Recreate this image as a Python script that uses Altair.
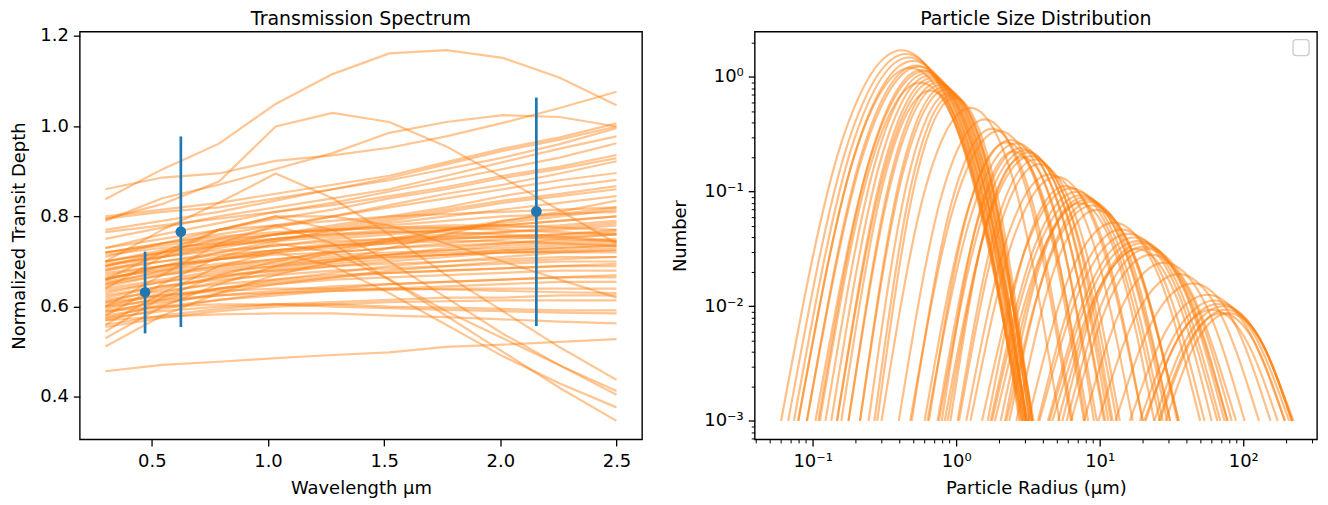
import altair as alt
import pandas as pd

ORANGE = "#ff7f0e"
BLUE = "#1f77b4"
FONT = "DejaVu Sans"

# ---------------- Transmission spectrum data ----------------
wavelengths = [0.3, 0.544, 0.789, 1.033, 1.278, 1.522, 1.767, 2.011, 2.256, 2.5]

spectra = [
    [0.838, 0.904, 0.961, 1.049, 1.115, 1.161, 1.168, 1.151, 1.107, 1.046],
    [0.794, 0.827, 0.877, 0.999, 1.029, 1.009, 0.955, 0.886, 0.813, 0.74],
    [0.860, 0.886, 0.895, 0.923, 0.935, 0.952, 0.977, 1.007, 1.04, 1.076],
    [0.79, 0.84, 0.87, 0.905, 0.94, 0.985, 1.009, 1.024, 1.02, 0.999],
    [0.457, 0.471, 0.478, 0.486, 0.493, 0.499, 0.511, 0.516, 0.522, 0.528],
    [0.70, 0.77, 0.83, 0.895, 0.84, 0.76, 0.67, 0.59, 0.51, 0.438],
    [0.58, 0.65, 0.71, 0.74, 0.72, 0.66, 0.59, 0.53, 0.47, 0.413],
    [0.64, 0.71, 0.77, 0.80, 0.77, 0.70, 0.62, 0.54, 0.47, 0.405],
    [0.56, 0.63, 0.69, 0.72, 0.69, 0.63, 0.56, 0.49, 0.43, 0.377],
    [0.60, 0.67, 0.74, 0.78, 0.74, 0.66, 0.58, 0.50, 0.42, 0.347],
    [0.66, 0.72, 0.77, 0.80, 0.80, 0.78, 0.74, 0.70, 0.66, 0.62],
    [0.80, 0.815, 0.83, 0.85, 0.87, 0.89, 0.92, 0.95, 0.975, 1.006],
    [0.795, 0.81, 0.82, 0.84, 0.86, 0.885, 0.915, 0.945, 0.97, 0.999],
    [0.77, 0.79, 0.81, 0.835, 0.86, 0.88, 0.905, 0.93, 0.96, 0.995],
    [0.75, 0.775, 0.80, 0.82, 0.84, 0.86, 0.89, 0.92, 0.95, 0.977],
    [0.73, 0.76, 0.785, 0.81, 0.83, 0.855, 0.88, 0.905, 0.93, 0.962],
    [0.765, 0.78, 0.795, 0.81, 0.825, 0.845, 0.865, 0.89, 0.91, 0.936],
    [0.71, 0.74, 0.77, 0.795, 0.815, 0.84, 0.86, 0.885, 0.905, 0.929],
    [0.69, 0.72, 0.75, 0.775, 0.80, 0.825, 0.85, 0.87, 0.895, 0.922],
    [0.72, 0.74, 0.76, 0.78, 0.80, 0.82, 0.84, 0.86, 0.88, 0.896],
    [0.68, 0.71, 0.735, 0.76, 0.78, 0.80, 0.82, 0.845, 0.865, 0.881],
    [0.70, 0.72, 0.74, 0.76, 0.775, 0.795, 0.815, 0.835, 0.85, 0.867],
    [0.66, 0.69, 0.72, 0.745, 0.77, 0.79, 0.81, 0.83, 0.845, 0.86],
    [0.69, 0.71, 0.73, 0.75, 0.765, 0.785, 0.80, 0.815, 0.83, 0.845],
    [0.512, 0.58, 0.63, 0.67, 0.70, 0.73, 0.76, 0.79, 0.81, 0.835],
    [0.53, 0.60, 0.65, 0.69, 0.72, 0.745, 0.77, 0.79, 0.805, 0.82],
    [0.545, 0.62, 0.67, 0.70, 0.725, 0.75, 0.77, 0.785, 0.80, 0.815],
    [0.73, 0.75, 0.77, 0.78, 0.79, 0.80, 0.805, 0.81, 0.815, 0.82],
    [0.72, 0.735, 0.75, 0.76, 0.77, 0.78, 0.79, 0.80, 0.805, 0.81],
    [0.715, 0.73, 0.74, 0.75, 0.76, 0.77, 0.775, 0.78, 0.79, 0.80],
    [0.70, 0.72, 0.735, 0.745, 0.755, 0.765, 0.77, 0.775, 0.78, 0.79],
    [0.695, 0.71, 0.725, 0.735, 0.745, 0.75, 0.76, 0.765, 0.77, 0.78],
    [0.685, 0.70, 0.715, 0.725, 0.735, 0.745, 0.75, 0.755, 0.76, 0.77],
    [0.68, 0.70, 0.72, 0.735, 0.75, 0.76, 0.77, 0.78, 0.79, 0.80],
    [0.675, 0.69, 0.705, 0.715, 0.72, 0.73, 0.735, 0.74, 0.745, 0.75],
    [0.67, 0.69, 0.705, 0.72, 0.73, 0.74, 0.75, 0.755, 0.76, 0.765],
    [0.665, 0.68, 0.695, 0.705, 0.715, 0.72, 0.725, 0.73, 0.735, 0.74],
    [0.66, 0.685, 0.705, 0.72, 0.735, 0.745, 0.755, 0.765, 0.775, 0.785],
    [0.655, 0.675, 0.69, 0.70, 0.71, 0.715, 0.72, 0.725, 0.73, 0.735],
    [0.65, 0.67, 0.685, 0.695, 0.705, 0.71, 0.715, 0.72, 0.722, 0.725],
    [0.645, 0.67, 0.69, 0.705, 0.72, 0.73, 0.74, 0.75, 0.755, 0.76],
    [0.64, 0.66, 0.68, 0.69, 0.70, 0.71, 0.715, 0.72, 0.72, 0.72],
    [0.635, 0.655, 0.67, 0.68, 0.69, 0.695, 0.70, 0.705, 0.71, 0.71],
    [0.63, 0.655, 0.675, 0.69, 0.705, 0.715, 0.725, 0.735, 0.74, 0.745],
    [0.625, 0.645, 0.66, 0.67, 0.68, 0.685, 0.69, 0.695, 0.70, 0.70],
    [0.62, 0.645, 0.665, 0.68, 0.695, 0.705, 0.715, 0.725, 0.73, 0.735],
    [0.615, 0.635, 0.65, 0.66, 0.67, 0.675, 0.68, 0.685, 0.69, 0.69],
    [0.61, 0.64, 0.665, 0.685, 0.70, 0.715, 0.73, 0.74, 0.75, 0.76],
    [0.605, 0.625, 0.64, 0.65, 0.66, 0.665, 0.67, 0.675, 0.68, 0.68],
    [0.60, 0.63, 0.655, 0.675, 0.69, 0.70, 0.71, 0.72, 0.725, 0.73],
    [0.595, 0.62, 0.64, 0.655, 0.665, 0.675, 0.68, 0.685, 0.69, 0.695],
    [0.59, 0.61, 0.625, 0.635, 0.645, 0.65, 0.655, 0.66, 0.665, 0.665],
    [0.585, 0.615, 0.64, 0.66, 0.675, 0.69, 0.70, 0.71, 0.72, 0.725],
    [0.58, 0.60, 0.615, 0.625, 0.635, 0.64, 0.645, 0.65, 0.655, 0.655],
    [0.575, 0.605, 0.63, 0.65, 0.665, 0.68, 0.69, 0.70, 0.705, 0.71],
    [0.57, 0.595, 0.615, 0.63, 0.64, 0.65, 0.655, 0.66, 0.665, 0.67],
    [0.72, 0.74, 0.755, 0.765, 0.77, 0.775, 0.775, 0.77, 0.765, 0.76],
    [0.70, 0.725, 0.745, 0.76, 0.77, 0.775, 0.78, 0.78, 0.775, 0.77],
    [0.69, 0.715, 0.735, 0.75, 0.76, 0.765, 0.765, 0.76, 0.755, 0.745],
    [0.66, 0.69, 0.71, 0.725, 0.735, 0.74, 0.745, 0.745, 0.74, 0.735],
    [0.65, 0.68, 0.705, 0.725, 0.74, 0.75, 0.755, 0.755, 0.75, 0.745],
    [0.56, 0.58, 0.595, 0.605, 0.61, 0.615, 0.62, 0.62, 0.625, 0.625],
    [0.555, 0.575, 0.59, 0.60, 0.605, 0.61, 0.612, 0.614, 0.614, 0.614],
    [0.575, 0.59, 0.60, 0.605, 0.605, 0.60, 0.598, 0.595, 0.592, 0.592],
    [0.59, 0.60, 0.605, 0.605, 0.60, 0.597, 0.593, 0.59, 0.587, 0.585],
    [0.57, 0.578, 0.583, 0.585, 0.585, 0.58, 0.577, 0.572, 0.567, 0.563],
    [0.61, 0.625, 0.635, 0.64, 0.64, 0.64, 0.638, 0.635, 0.632, 0.63],
    [0.60, 0.615, 0.625, 0.63, 0.635, 0.637, 0.64, 0.64, 0.64, 0.64],
]

obs_wavelength = [0.471, 0.625, 2.155]
obs_depth = [0.632, 0.766, 0.811]
obs_low = [0.541, 0.555, 0.557]
obs_high = [0.722, 0.977, 1.063]

# ---------------- Particle size distribution data ----------------
radius_curves = [
    [0.0603, 0.1585, 0.417, 1.096, 2.884],
    [0.0676, 0.1738, 0.4467, 1.148, 2.951],
    [0.0741, 0.1862, 0.4677, 1.175, 2.951],
    [0.0794, 0.1995, 0.5012, 1.259, 3.162],
    [0.0912, 0.2188, 0.5248, 1.259, 3.02],
    [0.0912, 0.2239, 0.5495, 1.349, 3.311],
    [0.1096, 0.2512, 0.5754, 1.318, 3.02],
    [0.1047, 0.2512, 0.6026, 1.445, 3.467],
    [0.123, 0.2754, 0.6166, 1.38, 3.09],
    [0.1349, 0.2951, 0.6457, 1.413, 3.09],
    [0.1479, 0.3162, 0.6761, 1.445, 3.09],
    [0.1479, 0.3236, 0.7079, 1.549, 3.388],
    [0.1778, 0.3631, 0.7413, 1.514, 3.09],
    [0.1778, 0.3715, 0.7762, 1.622, 3.388],
    [0.2138, 0.4169, 0.8128, 1.585, 3.09],
    [0.2138, 0.4266, 0.8511, 1.698, 3.388],
    [0.2455, 0.4677, 0.8913, 1.698, 3.236],
    [0.2692, 0.5012, 0.9333, 1.738, 3.236],
    [0.2818, 0.5248, 0.9772, 1.82, 3.388],
    [0.1122, 0.2512, 0.5623, 1.259, 2.818],
    [0.1585, 0.3236, 0.6607, 1.349, 2.754],
    [0.0794, 0.195, 0.4786, 1.175, 2.884],
    [0.302, 0.6166, 1.259, 2.57, 5.248],
    [0.3981, 0.7943, 1.585, 3.162, 6.31],
    [0.4786, 0.9772, 1.995, 4.074, 8.318],
    [0.6026, 1.202, 2.399, 4.786, 9.55],
    [0.631, 1.288, 2.63, 5.37, 10.96],
    [0.7413, 1.445, 2.818, 5.495, 10.72],
    [0.7586, 1.514, 3.02, 6.026, 12.02],
    [0.871, 1.66, 3.162, 6.026, 11.48],
    [0.8318, 1.66, 3.311, 6.607, 13.18],
    [0.912, 1.622, 2.884, 5.129, 9.12],
    [0.7943, 1.413, 2.512, 4.467, 7.943],
    [1.023, 1.905, 3.548, 6.607, 12.3],
    [0.4898, 0.9333, 1.778, 3.388, 6.457],
    [0.6457, 1.202, 2.239, 4.169, 7.762],
    [1.047, 1.995, 3.802, 7.244, 13.8],
    [1.514, 3.09, 6.31, 12.88, 26.3],
    [1.738, 3.467, 6.918, 13.8, 27.54],
    [1.778, 3.631, 7.413, 15.14, 30.9],
    [2.042, 3.981, 7.762, 15.14, 29.51],
    [1.862, 3.89, 8.128, 16.98, 35.48],
    [2.344, 4.467, 8.511, 16.22, 30.9],
    [2.188, 3.981, 7.244, 13.18, 23.99],
    [2.239, 4.467, 8.913, 17.78, 35.48],
    [1.259, 2.512, 5.012, 10.0, 19.95],
    [1.175, 2.291, 4.467, 8.71, 16.98],
    [2.63, 5.012, 9.55, 18.2, 34.67],
    [1.66, 3.09, 5.754, 10.72, 19.95],
    [3.802, 7.762, 15.85, 32.36, 66.07],
    [4.365, 8.71, 17.38, 34.67, 69.18],
    [4.467, 9.12, 18.62, 38.02, 77.62],
    [5.129, 10.0, 19.5, 38.02, 74.13],
    [4.677, 9.772, 20.42, 42.66, 89.13],
    [5.888, 11.22, 21.38, 40.74, 77.62],
    [5.495, 10.0, 18.2, 33.11, 60.26],
    [3.162, 6.31, 12.59, 25.12, 50.12],
    [3.715, 7.244, 14.13, 27.54, 53.7],
    [6.31, 12.02, 22.91, 43.65, 83.18],
    [16.22, 30.2, 56.23, 104.7, 195.0],
    [19.05, 34.67, 63.1, 114.8, 208.9],
    [20.42, 37.15, 67.61, 123.0, 223.9],
    [23.99, 41.69, 72.44, 125.9, 218.8],
    [26.3, 44.67, 75.86, 128.8, 218.8],
    [25.7, 42.66, 70.79, 117.5, 195.0],
    [28.84, 47.86, 79.43, 131.8, 218.8],
    [20.89, 35.48, 60.26, 102.3, 173.8],
    [12.88, 23.99, 44.67, 83.18, 154.9],
    [9.772, 18.62, 35.48, 67.61, 128.8],
    [7.762, 14.79, 28.18, 53.7, 102.3],
]

number_curves = [
    [0.001, 0.266, 1.71, 0.266, 0.001],
    [0.001, 0.251, 1.585, 0.251, 0.001],
    [0.001, 0.2385, 1.479, 0.2385, 0.001],
    [0.001, 0.2265, 1.38, 0.2265, 0.001],
    [0.001, 0.2113, 1.259, 0.2113, 0.001],
    [0.001, 0.2077, 1.23, 0.2077, 0.001],
    [0.001, 0.1972, 1.148, 0.1972, 0.001],
    [0.001, 0.1939, 1.122, 0.1939, 0.001],
    [0.001, 0.1873, 1.072, 0.1873, 0.001],
    [0.001, 0.1809, 1.023, 0.1809, 0.001],
    [0.001, 0.1748, 0.977, 0.1748, 0.001],
    [0.001, 0.1689, 0.933, 0.1689, 0.001],
    [0.001, 0.1632, 0.891, 0.1632, 0.001],
    [0.001, 0.1576, 0.851, 0.1576, 0.001],
    [0.001, 0.1522, 0.813, 0.1522, 0.001],
    [0.001, 0.147, 0.776, 0.147, 0.001],
    [0.001, 0.1396, 0.724, 0.1396, 0.001],
    [0.001, 0.1349, 0.692, 0.1349, 0.001],
    [0.001, 0.1303, 0.661, 0.1303, 0.001],
    [0.001, 0.1632, 0.891, 0.1632, 0.001],
    [0.001, 0.1445, 0.759, 0.1445, 0.001],
    [0.001, 0.2042, 1.202, 0.2042, 0.001],
    [0.001, 0.1116, 0.537, 0.1116, 0.001],
    [0.001, 0.0939, 0.4266, 0.0939, 0.001],
    [0.001, 0.079, 0.3388, 0.079, 0.001],
    [0.001, 0.0688, 0.2818, 0.0688, 0.001],
    [0.001, 0.0653, 0.263, 0.0653, 0.001],
    [0.001, 0.061, 0.2399, 0.061, 0.001],
    [0.001, 0.0589, 0.2291, 0.0589, 0.001],
    [0.001, 0.0569, 0.2188, 0.0569, 0.001],
    [0.001, 0.054, 0.2042, 0.054, 0.001],
    [0.001, 0.0531, 0.1995, 0.0531, 0.001],
    [0.001, 0.0579, 0.2239, 0.0579, 0.001],
    [0.001, 0.0513, 0.1905, 0.0513, 0.001],
    [0.001, 0.0818, 0.3548, 0.0818, 0.001],
    [0.001, 0.0665, 0.2692, 0.0665, 0.001],
    [0.001, 0.0479, 0.1738, 0.0479, 0.001],
    [0.001, 0.0333, 0.1072, 0.0333, 0.001],
    [0.001, 0.0316, 0.1, 0.0316, 0.001],
    [0.001, 0.03, 0.0933, 0.03, 0.001],
    [0.001, 0.029, 0.0891, 0.029, 0.001],
    [0.001, 0.028, 0.0851, 0.028, 0.001],
    [0.001, 0.0271, 0.0813, 0.0271, 0.001],
    [0.001, 0.0266, 0.0794, 0.0266, 0.001],
    [0.001, 0.0257, 0.0759, 0.0257, 0.001],
    [0.001, 0.0396, 0.1349, 0.0396, 0.001],
    [0.001, 0.041, 0.1413, 0.041, 0.001],
    [0.001, 0.024, 0.0692, 0.024, 0.001],
    [0.001, 0.0345, 0.1122, 0.0345, 0.001],
    [0.001, 0.0167, 0.0427, 0.0167, 0.001],
    [0.001, 0.01585, 0.0398, 0.01585, 0.001],
    [0.001, 0.01505, 0.0372, 0.01505, 0.001],
    [0.001, 0.01454, 0.0355, 0.01454, 0.001],
    [0.001, 0.0138, 0.0331, 0.0138, 0.001],
    [0.001, 0.01334, 0.0316, 0.01334, 0.001],
    [0.001, 0.01334, 0.0316, 0.01334, 0.001],
    [0.001, 0.01984, 0.0537, 0.01984, 0.001],
    [0.001, 0.0179, 0.0468, 0.0179, 0.001],
    [0.001, 0.01223, 0.0282, 0.01223, 0.001],
    [0.001, 0.00668, 0.01259, 0.00668, 0.001],
    [0.001, 0.00613, 0.01122, 0.00613, 0.001],
    [0.001, 0.00582, 0.01047, 0.00582, 0.001],
    [0.001, 0.00562, 0.01, 0.00562, 0.001],
    [0.001, 0.00534, 0.00933, 0.00534, 0.001],
    [0.001, 0.00507, 0.00871, 0.00507, 0.001],
    [0.001, 0.00507, 0.00871, 0.00507, 0.001],
    [0.001, 0.00534, 0.00933, 0.00534, 0.001],
    [0.001, 0.00794, 0.01585, 0.00794, 0.001],
    [0.001, 0.00912, 0.01905, 0.00912, 0.001],
    [0.001, 0.01084, 0.024, 0.01084, 0.001],
]

x_ticks_left = [0.5, 1.0, 1.5, 2.0, 2.5]
y_ticks_left = [0.4, 0.6, 0.8, 1.0, 1.2]
x_major_right = [0.1, 1, 10, 100]
y_major_right = [0.001, 0.01, 0.1, 1]
x_minor_right = [0.04, 0.05, 0.06, 0.07, 0.08, 0.09,
                 0.2, 0.3, 0.4, 0.5, 0.6, 0.7, 0.8, 0.9,
                 2, 3, 4, 5, 6, 7, 8, 9,
                 20, 30, 40, 50, 60, 70, 80, 90, 200, 300]
y_minor_right = [0.0007, 0.0008, 0.0009,
                 0.002, 0.003, 0.004, 0.005, 0.006, 0.007, 0.008, 0.009,
                 0.02, 0.03, 0.04, 0.05, 0.06, 0.07, 0.08, 0.09,
                 0.2, 0.3, 0.4, 0.5, 0.6, 0.7, 0.8, 0.9, 2]

# ---------------- tables ----------------
spec_rows = []
for i, s in enumerate(spectra):
    for w, v in zip(wavelengths, s):
        spec_rows.append({"model": i, "wavelength": w, "depth": v})
spec_df = pd.DataFrame(spec_rows)

obs_df = pd.DataFrame({"wavelength": obs_wavelength, "depth": obs_depth,
                       "low": obs_low, "high": obs_high})

psd_rows = []
for i, (rs, ns) in enumerate(zip(radius_curves, number_curves)):
    for r, n in zip(rs, ns):
        psd_rows.append({"model": i, "radius": r, "number": n})
psd_df = pd.DataFrame(psd_rows)

W, H = 564, 409
LBL = 18

axis_common = dict(grid=False, domain=False, tickColor="black", tickWidth=1.3,
                   tickSize=6.5, labelColor="black", labelFontSize=LBL,
                   titleFontSize=LBL, titleFontWeight="normal", titleColor="black",
                   labelFont=FONT, titleFont=FONT)

title_common = dict(fontSize=19, fontWeight="normal", font=FONT, color="black",
                    anchor="middle", frame="group")

# ---------------- left panel ----------------
xs_left = alt.Scale(domain=[0.19, 2.61], nice=False, zero=False)
ys_left = alt.Scale(domain=[0.306, 1.209], nice=False, zero=False)

lines_left = alt.Chart(spec_df).mark_line(
    color=ORANGE, strokeWidth=2.2, opacity=0.45
).encode(
    x=alt.X("wavelength:Q", scale=xs_left,
            axis=alt.Axis(values=x_ticks_left, format=".1f", title="Wavelength μm",
                          labelPadding=7, titlePadding=9, **axis_common)),
    y=alt.Y("depth:Q", scale=ys_left,
            axis=alt.Axis(values=y_ticks_left, format=".1f",
                          title="Normalized Transit Depth", labelPadding=5,
                          titlePadding=11, **axis_common)),
    detail="model:N",
)

err_rules = alt.Chart(obs_df).mark_rule(color=BLUE, strokeWidth=2.7).encode(
    x="wavelength:Q", y="low:Q", y2="high:Q"
)
err_points = alt.Chart(obs_df).mark_circle(color=BLUE, size=115, opacity=1).encode(
    x="wavelength:Q", y="depth:Q"
)

left = alt.layer(lines_left, err_rules, err_points).properties(
    width=W, height=H,
    title=alt.TitleParams("Transmission Spectrum", offset=-2, **title_common),
)

# ---------------- right panel ----------------
xs_right = alt.Scale(type="log", domain=[0.0395, 326.6], nice=False)
ys_right = alt.Scale(type="log", domain=[0.000689, 2.483], nice=False)

x_label_expr = ("datum.value < 0.5 ? '10⁻¹' : datum.value < 5 ? '10⁰' : "
                "datum.value < 50 ? '10¹' : '10²'")
y_label_expr = ("datum.value < 0.005 ? '10⁻³' : datum.value < 0.05 ? '10⁻²' : "
                "datum.value < 0.5 ? '10⁻¹' : '10⁰'")

curves = alt.Chart(psd_df).mark_line(
    color=ORANGE, strokeWidth=2.2, opacity=0.5, interpolate="monotone"
).encode(
    x=alt.X("radius:Q", scale=xs_right,
            axis=alt.Axis(values=x_major_right, labelExpr=x_label_expr,
                          title="Particle Radius (μm)", labelPadding=7,
                          titlePadding=9, orient="bottom", **axis_common)),
    y=alt.Y("number:Q", scale=ys_right,
            axis=alt.Axis(values=y_major_right, labelExpr=y_label_expr,
                          title="Number", labelPadding=5, titlePadding=14,
                          orient="left", **axis_common)),
    detail="model:N",
)

minor_axis = dict(grid=False, domain=False, tickColor="black", tickWidth=1.0,
                  tickSize=3.5, labels=False, title=None)

minor = alt.Chart(psd_df).mark_point(opacity=0).encode(
    x=alt.X("radius:Q", scale=xs_right,
            axis=alt.Axis(values=x_minor_right, orient="bottom", **minor_axis)),
    y=alt.Y("number:Q", scale=ys_right,
            axis=alt.Axis(values=y_minor_right, orient="left", **minor_axis)),
)

legend_box = alt.Chart(pd.DataFrame({"k": [0]})).mark_rect(
    fill="white", stroke="#cccccc", strokeWidth=1.3, cornerRadius=3
).encode(
    x=alt.value(540), x2=alt.value(556), y=alt.value(8), y2=alt.value(24)
)

right = alt.layer(curves, minor, legend_box).resolve_axis(
    x="independent", y="independent"
).properties(
    width=W, height=H,
    title=alt.TitleParams("Particle Size Distribution", offset=3, **title_common),
)

chart = alt.hconcat(left, right, spacing=28).properties(
    padding={"left": 2, "top": 0, "right": 2, "bottom": 0}
).configure(
    font=FONT
).configure_view(
    stroke="black", strokeWidth=1.4
)

chart.save("out.html", embed_options={"renderer": "svg", "actions": False})
